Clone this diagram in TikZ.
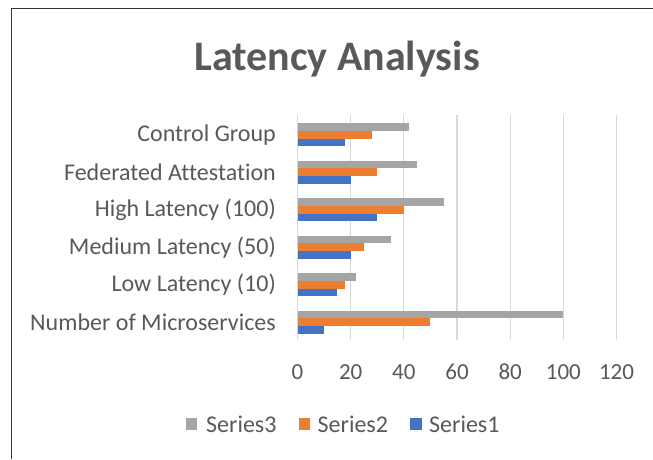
\documentclass[tikz,border=0pt]{standalone}
\usepackage{fontspec}
\setmainfont{Carlito}[Ligatures=NoCommon]
\definecolor{sgray}{HTML}{A5A5A5}
\definecolor{sorange}{HTML}{ED7D31}
\definecolor{sblue}{HTML}{4472C4}
\definecolor{txt}{HTML}{595959}
\definecolor{grid}{HTML}{D9D9D9}
\tikzset{
  gridline/.style={grid, line width=1.3pt},
  catlabel/.style={anchor=east, text=txt, font=\fontsize{24}{26}\selectfont, inner sep=0pt},
  ticklabel/.style={anchor=center, text=txt, font=\fontsize{23}{26}\selectfont, inner sep=0pt},
  legendtext/.style={anchor=west, text=txt, font=\fontsize{24}{26}\selectfont, inner sep=0pt},
  legendkey/.style={fill=#1, minimum size=11.5pt, inner sep=0pt},
  charttitle/.style={text=txt, font=\bfseries\fontsize{42}{46}\selectfont, inner sep=0pt},
}
\begin{document}
\begin{tikzpicture}[x=1pt,y=-1pt]
  \useasboundingbox (0,0) rectangle (653,459);
  \fill[white] (0,0) rectangle (653,459);
  % chart frame (left and top edges)
  \draw[line width=1.6pt, black!80] (11.5,459) -- (11.5,8.5) -- (653,8.5);

  % title
  \node[charttitle] (title) at (337,59) {Latency Analysis};

  % vertical gridlines and axis values
  \foreach \v [count=\k from 0] in {0,20,40,60,80,100,120} {
    \pgfmathsetmacro{\gx}{297.5+\v*2.6583}
    \draw[gridline] (\gx,115) -- (\gx,340);
    \node[ticklabel] (tick\k) at (\gx,372) {\v};
  }

  % bars: category / Series3 / Series2 / Series1
  \foreach \cat/\g/\o/\b [count=\i from 0] in {
      Control Group/42/28/18,
      Federated Attestation/45/30/20,
      High Latency (100)/55/40/30,
      Medium Latency (50)/35/25/20,
      Low Latency (10)/22/18/15,
      Number of Microservices/100/50/10} {
    \pgfmathsetmacro{\ytop}{115+37.5*\i+8.3}
    \pgfmathsetmacro{\ya}{\ytop+7.6}
    \pgfmathsetmacro{\yb}{\ytop+15.2}
    \pgfmathsetmacro{\yc}{\ytop+22.8}
    \pgfmathsetmacro{\ym}{\ytop+11.4}
    \fill[sgray]   (297.5,\ytop) rectangle (297.5+\g*2.6583,\ya);
    \fill[sorange] (297.5,\ya)  rectangle (297.5+\o*2.6583,\yb);
    \fill[sblue]   (297.5,\yb)  rectangle (297.5+\b*2.6583,\yc);
    \node[catlabel] (cat\i) at (276,\ym) {\cat};
  }

  % legend
  \node[legendkey=sgray]   (key3) at (191.5,424) {};
  \node[legendtext]        (lab3) at (206,424) {Series3};
  \node[legendkey=sorange] (key2) at (304.5,424) {};
  \node[legendtext]        (lab2) at (317.5,424) {Series2};
  \node[legendkey=sblue]   (key1) at (416,424) {};
  \node[legendtext]        (lab1) at (429,424) {Series1};
\end{tikzpicture}
\end{document}
